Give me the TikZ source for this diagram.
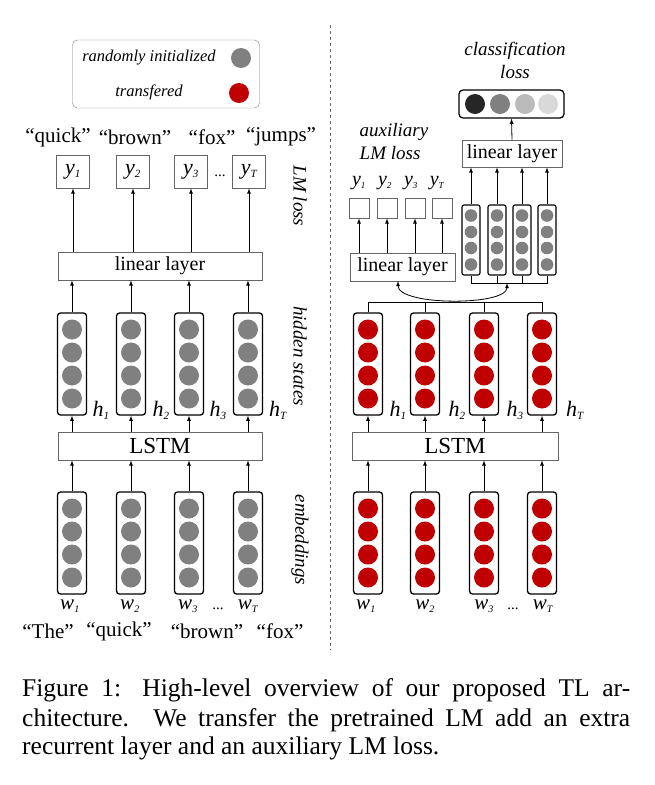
\documentclass[tikz,border=0pt]{standalone}
\usepackage{fontspec}
\setmainfont{Liberation Serif}
\begin{document}
\begin{tikzpicture}[x=1pt,y=-1pt,
  box/.style={draw=black!60,line width=0.8pt,inner sep=0pt},
  vbox/.style={draw,line width=1.3pt,rounded corners=3pt,minimum width=29pt,minimum height=102pt,inner sep=0pt},
  svbox/.style={draw,line width=1.1pt,rounded corners=2pt,minimum width=18pt,minimum height=70pt,inner sep=0pt},
  arr/.style={->,>=latex,line width=0.8pt},
  lab/.style={font=\fontsize{19}{23}\selectfont\itshape},
  captxt/.style={font=\fontsize{25.5}{26}\selectfont,anchor=west,inner sep=0pt}]
\definecolor{tred}{HTML}{C00000}
\definecolor{tgray}{HTML}{808080}
\useasboundingbox (0,0) rectangle (655,785);
\newcommand\myvec[4]{\node[vbox] (#1) at (#2,#3) {};
  \foreach \d in {-34.5,-11.5,11.5,34.5} \fill[#4] (#2,#3+\d) circle (10);}
\newcommand\mysvec[3]{\node[svbox] (#1) at (#2,#3) {};
  \foreach \d in {-24.5,-8,8,24.5} \fill[tgray] (#2,#3+\d) circle (6.3);}
% legend
\node[draw=black!50,rounded corners=5pt,minimum width=187pt,minimum height=68pt] (leg) at (166,74) {};
\node[font=\fontsize{16.5}{16.5}\selectfont\itshape] (l1) at (149,58) {randomly initialized};
\node[font=\fontsize{16.5}{16.5}\selectfont\itshape] (l2) at (149,92) {transfered};
\fill[tgray] (241,58) circle (10);
\fill[tred] (239,93) circle (10);
% dashed separator
\draw[dashed,black!60] (330,25) -- (330,650);
% ===== left =====
\foreach \n/\x/\t in {q1/58/quick,q2/135/brown,q3/212/fox,q4/281/jumps}
  \node[font=\fontsize{21}{21}\selectfont] (\n) at (\x,137) {“\t”};
\foreach \n/\x/\s in {yb1/73/1,yb2/133/2,yb3/191/3,yb4/249/T}
  \node[box,minimum width=33pt,minimum height=33pt] (\n) at (\x,171.5) {\fontsize{22}{22}\selectfont\itshape y\textsubscript{\fontsize{11}{11}\selectfont\s}};
\node (dots1) at (220,176) {\fontsize{15}{15}\selectfont ...};
\node[box,minimum width=204pt,minimum height=28pt] (linL) at (160,266) {\fontsize{20}{20}\selectfont linear layer};
\node[box,minimum width=204pt,minimum height=28pt] (lstmL) at (160,446) {\fontsize{23}{23}\selectfont LSTM};
\foreach \n/\x in {hL1/72,hL2/131,hL3/189,hL4/248} {\myvec{\n}{\x}{364}{tgray}}
\foreach \n/\x in {eL1/72,eL2/131,eL3/189,eL4/248} {\myvec{\n}{\x}{543}{tgray}}
\foreach \i in {1,2,3,4} {
  \draw[arr] (yb\i.south |- linL.north) -- (yb\i.south);
  \draw[arr] (hL\i.north) -- (linL.south -| hL\i.north);
  \draw[arr] (lstmL.north -| hL\i.south) -- (hL\i.south);
  \draw[arr] (eL\i.north) -- (lstmL.south -| eL\i.north);}
\foreach \n/\x/\s in {hl1/101/1,hl2/161/2,hl3/218/3,hl4/278/T}
  \node (\n) at (\x,410) {\fontsize{22}{22}\selectfont\itshape h\textsubscript{\fontsize{11}{11}\selectfont\s}};
\foreach \n/\x/\s in {wl1/70/1,wl2/130/2,wl3/188/3,wl4/248/T}
  \node (\n) at (\x,606) {\fontsize{21}{21}\selectfont\itshape w\textsubscript{\fontsize{10}{10}\selectfont\s}};
\node (dots2) at (218,609) {\fontsize{15}{15}\selectfont ...};
\foreach \n/\x/\t in {t1/48/The,t2/119/quick,t3/207/brown,t4/280/fox}
  \node[font=\fontsize{21}{21}\selectfont] (\n) at (\x,631) {“\t”};
\node[lab,rotate=-90] (r1) at (300,196) {LM loss};
\node[lab,rotate=-90] (r2) at (300,356) {hidden states};
\node[lab,rotate=-90] (r3) at (300,540) {embeddings};
% ===== right =====
\node[lab,align=center] (cl) at (515,60) {classification\\loss};
\node[draw,line width=1.3pt,rounded corners=4pt,minimum width=105pt,minimum height=28pt] (out) at (511.5,104) {};
\foreach \x/\c in {475/black!85,500/black!50,525/black!27,548/black!15} \fill[\c] (\x,104) circle (10);
\node[box,minimum width=100pt,minimum height=27pt] (linC) at (512,153.5) {\fontsize{20}{20}\selectfont linear layer};
\draw[arr] (linC.north) -- (out.south);
\foreach \n/\x in {s1/471,s2/497,s3/522,s4/547} {\mysvec{\n}{\x}{240}}
\foreach \i in {1,2,3,4} \draw[arr] (s\i.north) -- (linC.south -| s\i.north);
\coordinate (sj) at (507,283);
\draw[line width=0.8pt] (s1.south) -- (s1.south |- sj) -- (s4.south |- sj) -- (s4.south);
\draw[line width=0.8pt] (s2.south) -- (s2.south |- sj);
\draw[line width=0.8pt] (s3.south) -- (s3.south |- sj);
\node[lab,align=left] (aux) at (394,141) {auxiliary\\LM loss};
\foreach \n/\x/\s in {ya1/359/1,ya2/385/2,ya3/411/3,ya4/437/T}
  \node (\n) at (\x,183) {\fontsize{20}{20}\selectfont\itshape y\textsubscript{\fontsize{9}{9}\selectfont\s}};
\foreach \n/\x in {sb1/359,sb2/387,sb3/415,sb4/442}
  \node[box,minimum width=20pt,minimum height=20pt] (\n) at (\x,208) {};
\node[box,minimum width=105pt,minimum height=28pt] (linR) at (402.5,267) {\fontsize{20}{20}\selectfont linear layer};
\foreach \i in {1,2,3,4} \draw[arr] (sb\i.south |- linR.north) -- (sb\i.south);
\node[box,minimum width=206pt,minimum height=28pt] (lstmR) at (455,446) {\fontsize{23}{23}\selectfont LSTM};
\foreach \n/\x in {hR1/368,hR2/425,hR3/484,hR4/542} {\myvec{\n}{\x}{364}{tred}}
\foreach \n/\x in {eR1/368,eR2/425,eR3/484,eR4/542} {\myvec{\n}{\x}{543}{tred}}
\foreach \i in {1,2,3,4} {
  \draw[arr] (lstmR.north -| hR\i.south) -- (hR\i.south);
  \draw[arr] (eR\i.north) -- (lstmR.south -| eR\i.north);}
\coordinate (hj) at (455,302);
\coordinate (la) at (398,281);
\draw[line width=0.8pt] (hR1.north) -- (hR1.north |- hj) -- (hR4.north |- hj) -- (hR4.north);
\draw[line width=0.8pt] (hR2.north) -- (hR2.north |- hj);
\draw[line width=0.8pt] (hR3.north) -- (hR3.north |- hj);
\draw[<->,>=latex,line width=0.8pt] (la) .. controls (398,306) and (507,306) .. (sj);
\foreach \n/\x/\s in {hr1/398/1,hr2/457/2,hr3/515/3,hr4/575/T}
  \node (\n) at (\x,410) {\fontsize{22}{22}\selectfont\itshape h\textsubscript{\fontsize{11}{11}\selectfont\s}};
\foreach \n/\x/\s in {wr1/366/1,wr2/425/2,wr3/484/3,wr4/543/T}
  \node (\n) at (\x,606) {\fontsize{21}{21}\selectfont\itshape w\textsubscript{\fontsize{10}{10}\selectfont\s}};
\node (dots3) at (513,609) {\fontsize{15}{15}\selectfont ...};
% caption
\node[captxt] (c1) at (22,690) {\makebox[608pt][s]{Figure 1: High-level overview of our proposed TL ar-}};
\node[captxt] (c2) at (22,720) {\makebox[608pt][s]{chitecture. We transfer the pretrained LM add an extra}};
\node[captxt] (c3) at (22,748) {recurrent layer and an auxiliary LM loss.};
\end{tikzpicture}
\end{document}
